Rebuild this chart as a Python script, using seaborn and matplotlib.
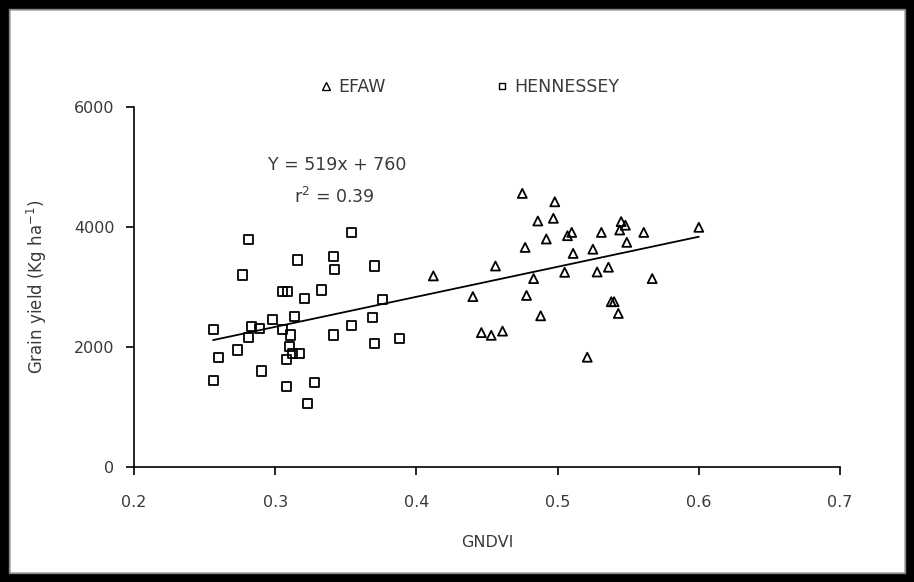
import numpy as np
import pandas as pd
import matplotlib
matplotlib.use("Agg")
import matplotlib.pyplot as plt
from matplotlib.patches import Rectangle
from matplotlib.lines import Line2D
import seaborn as sns

# EFAW (triangles)
efaw_x = [0.475, 0.498, 0.486, 0.497, 0.492, 0.477, 0.507, 0.510, 0.531, 0.544,
          0.545, 0.548, 0.561, 0.600, 0.549, 0.511, 0.525, 0.412, 0.456, 0.483,
          0.505, 0.528, 0.536, 0.567, 0.440, 0.478, 0.538, 0.540, 0.543, 0.488,
          0.446, 0.453, 0.461, 0.521]
efaw_y = [4560, 4420, 4100, 4145, 3800, 3660, 3855, 3910, 3910, 3950,
          4090, 4030, 3910, 3995, 3745, 3560, 3630, 3185, 3350, 3140,
          3245, 3250, 3330, 3140, 2840, 2860, 2755, 2755, 2560, 2520,
          2240, 2195, 2265, 1830]

# HENNESSEY (squares)
henn_x = [0.281, 0.354, 0.316, 0.341, 0.342, 0.370, 0.277, 0.305, 0.309, 0.321,
          0.333, 0.376, 0.298, 0.314, 0.369, 0.354, 0.256, 0.283, 0.289, 0.305,
          0.311, 0.281, 0.341, 0.370, 0.388, 0.273, 0.260, 0.310, 0.312, 0.317,
          0.308, 0.290, 0.256, 0.308, 0.328, 0.323]
henn_y = [3795, 3905, 3450, 3505, 3295, 3350, 3200, 2920, 2920, 2815,
          2950, 2795, 2465, 2515, 2495, 2360, 2285, 2340, 2310, 2285,
          2200, 2160, 2200, 2060, 2145, 1950, 1830, 2005, 1895, 1895,
          1785, 1600, 1435, 1340, 1405, 1060]

x_ticks = [0.2, 0.3, 0.4, 0.5, 0.6, 0.7]
y_ticks = [0, 2000, 4000, 6000]

df = pd.DataFrame({
    "GNDVI": efaw_x + henn_x,
    "Yield": efaw_y + henn_y,
    "Variety": ["EFAW"] * len(efaw_x) + ["HENNESSEY"] * len(henn_x),
})

sns.set_style("white")
plt.rcParams['font.family'] = ['DejaVu Sans']

W, H = 914, 582
fig = plt.figure(figsize=(W / 100, H / 100), dpi=100)
ax = fig.add_axes([134 / W, 1 - 467 / H, (840 - 134) / W, (467 - 107) / H])

txt = '#3a3a3a'
sns.scatterplot(data=df, x="GNDVI", y="Yield", style="Variety",
                markers={"EFAW": "^", "HENNESSEY": "s"},
                linewidth=1.3, s=42, color='black', ax=ax, legend=False)
for coll in ax.collections:
    coll.set_facecolor('none')
    coll.set_edgecolor('black')

sns.regplot(data=df, x="GNDVI", y="Yield", scatter=False, ci=None, ax=ax,
            line_kws=dict(color='black', lw=1.3))

ax.set_xlim(0.2, 0.7)
ax.set_ylim(0, 6000)
ax.set_xticks(x_ticks)
ax.set_yticks(y_ticks)
ax.set_xticklabels([f"{v:.1f}" for v in x_ticks])
ax.set_yticklabels([str(v) for v in y_ticks])
for s in ['top', 'right']:
    ax.spines[s].set_visible(False)
for s in ['left', 'bottom']:
    ax.spines[s].set_color('black')
    ax.spines[s].set_linewidth(1.2)
ax.tick_params(axis='both', direction='out', length=6, width=1.2, color='black',
               labelsize=11.5, labelcolor=txt, left=True, bottom=True)
ax.tick_params(axis='x', pad=14)
ax.tick_params(axis='y', pad=8)
ax.set_xlabel("GNDVI", fontsize=11.5, color=txt, labelpad=18)
ax.set_ylabel("Grain yield (Kg ha$^{-1}$)", fontsize=12, color=txt, labelpad=18)

ax.text(0.344, 5033, "Y = 519x + 760", fontsize=12.5, color=txt, ha='center', va='center')
ax.text(0.342, 4500, "r$^2$ = 0.39", fontsize=12.5, color=txt, ha='center', va='center')

fs = 12.5
em = fs * 100 / 72
h_tri = Line2D([], [], marker='^', ls='none', mfc='none', mec='black', ms=6, mew=1)
h_sq = Line2D([], [], marker='s', ls='none', mfc='none', mec='black', ms=5, mew=1)
for h, lab, mx in [(h_tri, "EFAW", 326), (h_sq, "HENNESSEY", 502)]:
    fig.legend([h], [lab], loc='center left',
               bbox_to_anchor=((mx - 0.4 * em) / W, 1 - 87 / H),
               frameon=False, borderpad=0, borderaxespad=0,
               handletextpad=0.3, handlelength=0.8,
               prop={'size': fs}, labelcolor=txt)

# figure frame
fig.patches.append(Rectangle((0, 0), 1, 1, transform=fig.transFigure,
                             fill=False, edgecolor='black', linewidth=14))
fig.patches.append(Rectangle((9 / W, 9 / H), 1 - 18 / W, 1 - 18 / H,
                             transform=fig.transFigure, fill=False,
                             edgecolor='#888888', linewidth=1))

fig.savefig("out.png", dpi=100)
